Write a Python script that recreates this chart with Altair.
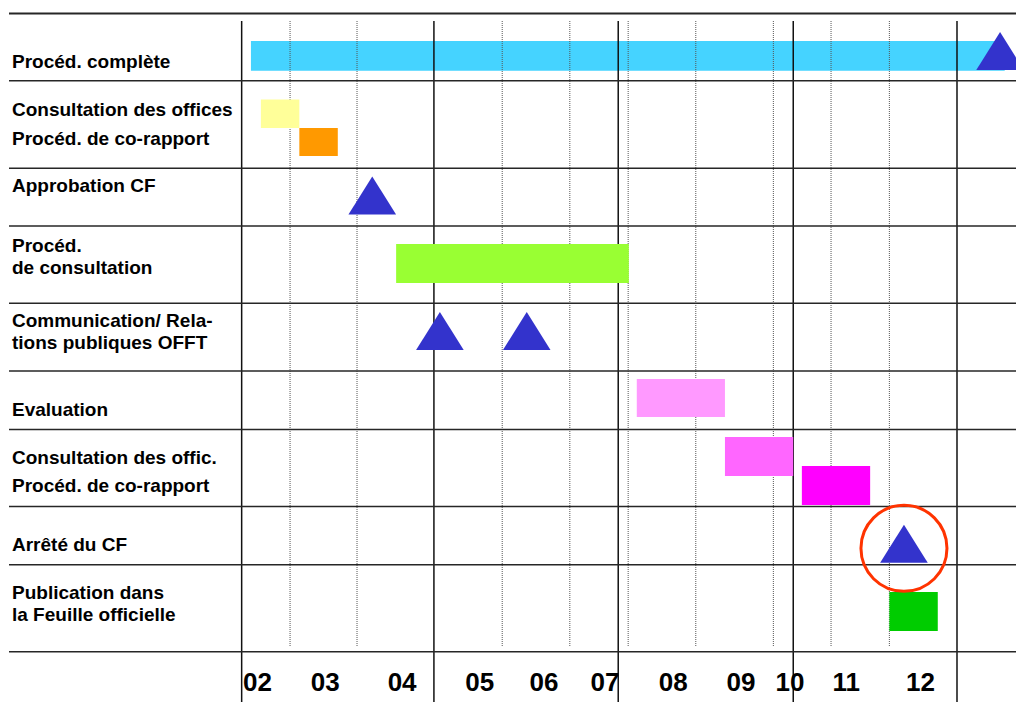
import altair as alt
import pandas as pd

# ---------------------------------------------------------------- data
# Row captions of the schedule (one list entry per table row, one string per text line)
row_labels = [
    ["Procéd. complète"],
    ["Consultation des offices", "Procéd. de co-rapport"],
    ["Approbation CF"],
    ["Procéd.", "de consultation"],
    ["Communication/ Rela-", "tions publiques OFFT"],
    ["Evaluation"],
    ["Consultation des offic.", "Procéd. de co-rapport"],
    ["Arrêté du CF"],
    ["Publication dans", "la Feuille officielle"],
]

# Activities drawn as bars (time in months, fractional)
bar_task = [
    "Procéd. complète",
    "Consultation des offices",
    "Procéd. de co-rapport",
    "Procéd. de consultation",
    "Evaluation",
    "Consultation des offic.",
    "Procéd. de co-rapport (2)",
    "Publication",
]
bar_start = [1.90, 2.05, 2.63, 4.09, 7.72, 9.05, 10.21, 11.53]
bar_end = [13.27, 2.63, 3.21, 7.60, 9.05, 10.08, 11.24, 12.26]

# Milestones (triangles)
milestone_task = ["Fin", "Approbation CF", "Communication 1", "Communication 2", "Arrêté du CF"]
milestone_month = [13.20, 3.73, 4.75, 6.06, 11.75]

# Highlighted milestone (ring)
highlight_month = [11.75]

# Month axis
month_labels = ["02", "03", "04", "05", "06", "07", "08", "09", "10", "11", "12"]
month_label_at = [2.00, 3.02, 4.18, 5.35, 6.32, 7.24, 8.27, 9.29, 10.03, 10.88, 12.00]

# Reference lines of the time grid
solid_grid = [1.76, 4.66, 7.44, 10.08, 12.55]
dotted_grid = [2.49, 3.50, 5.69, 6.71, 7.59, 8.61, 9.78, 10.65, 11.53]

# ---------------------------------------------------------------- layout
ROW_EDGES = [13.5, 80.7, 168.3, 226.0, 303.3, 371.0, 429.5, 506.5, 564.7, 651.7]
LABEL_BASE = [[67.7], [116.0, 145.0], [192.4], [252.3, 274.0], [327.3, 349.3],
              [416.0], [464.3, 491.7], [551.0], [599.3, 620.7]]
BAR_SPAN = [(41.0, 70.7), (99.5, 128.0), (128.0, 156.0), (244.0, 283.0),
            (379.0, 417.0), (437.0, 476.0), (466.0, 505.0), (592.0, 631.0)]
MILESTONE_Y = [51.0, 195.5, 331.0, 331.0, 543.8]
GRID_TOP, SOLID_BOTTOM, DOTTED_BOTTOM = 21.0, 702.0, 647.0
MONTH_BASE = 691.0

BAR_COLORS = ["#45D3FF", "#FFFF99", "#FF9900", "#99FF33",
              "#FF99FF", "#FF66FF", "#FF00FF", "#00CC00"]
MILESTONE_COLOR = "#3333CC"
RING_COLOR = "#FF3300"
FONT = "Liberation Sans"

PLOT_W, PLOT_H, LEFT = 775, 702, 241

x_scale = alt.Scale(domain=[1.75, 13.44], nice=False, zero=False)
y_scale = alt.Scale(domain=[0, PLOT_H], range=[0, PLOT_H], nice=False, zero=False)

# ---------------------------------------------------------------- tables
bars = pd.DataFrame({
    "task": bar_task,
    "start": bar_start,
    "end": bar_end,
    "top": [s[0] for s in BAR_SPAN],
    "bottom": [s[1] for s in BAR_SPAN],
    "color": BAR_COLORS,
})
bars_back = bars.iloc[:1]
bars_front = bars.iloc[1:]

milestones = pd.DataFrame({"task": milestone_task, "month": milestone_month, "y": MILESTONE_Y})
ring = pd.DataFrame({"month": highlight_month, "y": [MILESTONE_Y[-1] + 4.5]})

label_rows = []
for lines, bases in zip(row_labels, LABEL_BASE):
    for text, base in zip(lines, bases):
        label_rows.append({"text": text, "y": base})
labels = pd.DataFrame(label_rows)

months = pd.DataFrame({"label": month_labels, "month": month_label_at, "y": MONTH_BASE})
hlines = pd.DataFrame({"y": ROW_EDGES, "w": [2.0] + [1.5] * (len(ROW_EDGES) - 1)})
solid = pd.DataFrame({"month": solid_grid, "y": GRID_TOP, "y2": SOLID_BOTTOM})
dotted = pd.DataFrame({"month": dotted_grid, "y": GRID_TOP, "y2": DOTTED_BOTTOM})

X = lambda f: alt.X(f, type="quantitative", scale=x_scale, axis=None)
Y = lambda f: alt.Y(f, type="quantitative", scale=y_scale, axis=None)

# ---------------------------------------------------------------- layers
def bar_layer(df):
    return alt.Chart(df).mark_rect().encode(
        x=X("start"), x2="end", y=Y("top"), y2="bottom",
        color=alt.Color("color:N", scale=None),
    )

row_rules = alt.Chart(hlines).mark_rule(color="#262626").encode(
    x=alt.value(9 - LEFT), x2=alt.value(PLOT_W), y=Y("y"),
    strokeWidth=alt.StrokeWidth("w:Q", scale=None),
)

solid_rules = alt.Chart(solid).mark_rule(color="#111111", strokeWidth=1.5).encode(
    x=X("month"), y=Y("y"), y2="y2",
)

dotted_rules = alt.Chart(dotted).mark_rule(
    color="#555555", strokeWidth=1, strokeDash=[1, 1]
).encode(x=X("month"), y=Y("y"), y2="y2")

triangles = alt.Chart(milestones).mark_point(
    shape="M0,-0.8L1,0.8L-1,0.8Z", filled=True, opacity=1,
    color=MILESTONE_COLOR, size=2266,
).encode(x=X("month"), y=Y("y"))

ring_mark = alt.Chart(ring).mark_point(
    shape="circle", filled=False, opacity=1, color=RING_COLOR,
    strokeWidth=3, size=7400,
).encode(x=X("month"), y=Y("y"))

row_text = alt.Chart(labels).mark_text(
    align="left", baseline="alphabetic", font=FONT, fontWeight="bold",
    fontSize=19, color="#000000",
).encode(x=alt.value(12 - LEFT), y=Y("y"), text="text:N")

month_text = alt.Chart(months).mark_text(
    align="center", baseline="alphabetic", font=FONT, fontWeight="bold",
    fontSize=26, color="#000000",
).encode(x=X("month"), y=Y("y"), text="label:N")

chart = alt.layer(
    bar_layer(bars_back),
    dotted_rules,
    solid_rules,
    row_rules,
    bar_layer(bars_front),
    triangles,
    ring_mark,
    row_text,
    month_text,
).properties(
    width=PLOT_W,
    height=PLOT_H,
    autosize=alt.AutoSizeParams(type="none"),
    padding={"left": LEFT, "top": 0, "right": 0, "bottom": 0},
    background="#FFFFFF",
).configure_view(stroke=None)

chart.save("out.html", embed_options={"renderer": "svg", "actions": False})
